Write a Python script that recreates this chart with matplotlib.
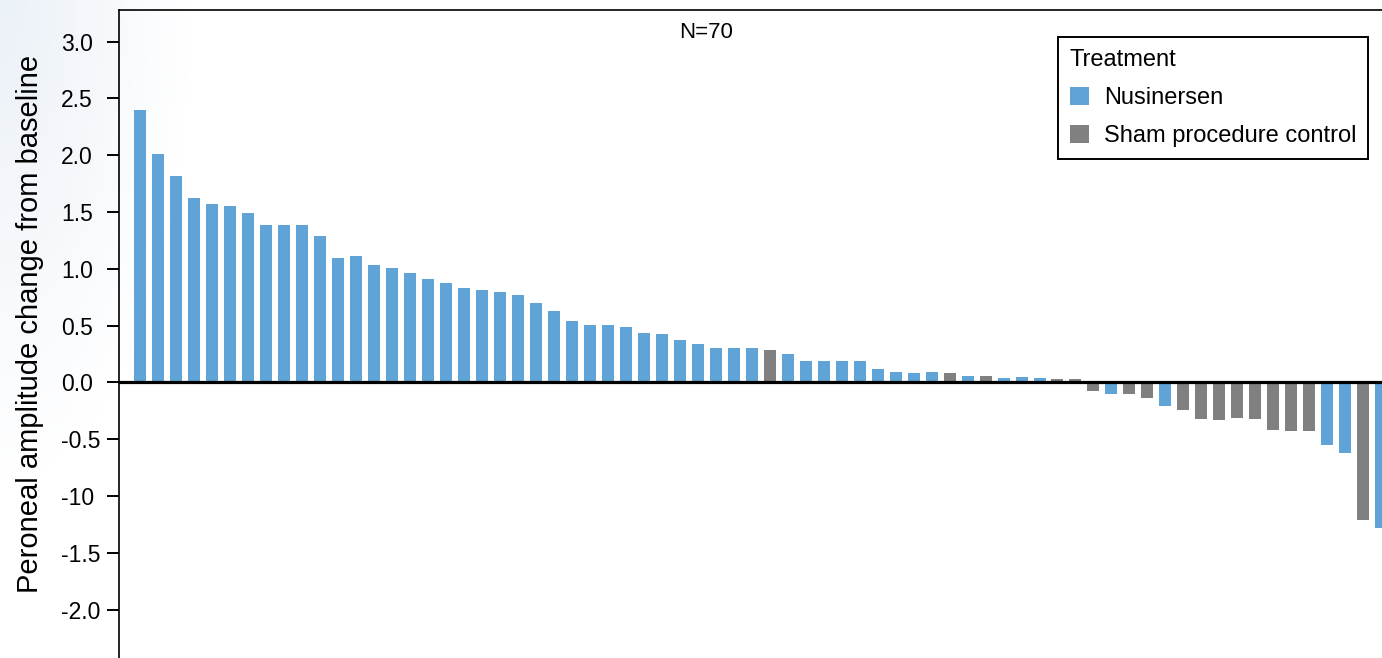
import matplotlib
matplotlib.use("Agg")
import matplotlib.pyplot as plt
from matplotlib.patches import Patch
from matplotlib.ticker import FixedLocator
import numpy as np

plt.rcParams['font.family'] = ['Liberation Sans', 'DejaVu Sans']

# ---- data ----
values = [2.40, 2.01, 1.82, 1.62, 1.57, 1.55, 1.49, 1.39, 1.39, 1.39,
          1.29, 1.10, 1.11, 1.03, 1.01, 0.96, 0.91, 0.88, 0.83, 0.81,
          0.80, 0.77, 0.70, 0.63, 0.54, 0.51, 0.505, 0.49, 0.44, 0.43,
          0.37, 0.34, 0.30, 0.30, 0.30, 0.29, 0.25, 0.19, 0.19, 0.19,
          0.19, 0.12, 0.09, 0.08, 0.09, 0.08, 0.057, 0.057, 0.04, 0.05,
          0.04, 0.03, 0.03, -0.075, -0.10, -0.10, -0.14, -0.21, -0.24, -0.32,
          -0.33, -0.31, -0.32, -0.42, -0.43, -0.43, -0.55, -0.62, -1.21, -1.28]
groups = ['N'] * 35 + ['S'] + ['N'] * 9 + ['S', 'N', 'S', 'N', 'N', 'N', 'S', 'S',
          'S', 'N', 'S', 'S', 'N', 'S', 'S', 'S', 'S', 'S', 'S', 'S', 'S', 'N', 'N', 'S', 'N']
group_names = {'N': 'Nusinersen', 'S': 'Sham procedure control'}
group_colors = {'N': '#5fa3d7', 'S': '#808080'}
ytick_values = [3.0, 2.5, 2.0, 1.5, 1.0, 0.5, 0.0, -0.5, -1.0, -1.5, -2.0]
ytick_labels = ['3.0', '2.5', '2.0', '1.5', '1.0', '0.5', '0.0', '-0.5', '-10', '-1.5', '-2.0']
ylabel = 'Peroneal amplitude change from baseline'
annotation = 'N=70'
legend_title = 'Treatment'

W, H = 1382, 658
fig = plt.figure(figsize=(W / 100, H / 100), dpi=100, facecolor='white')

# faint slide-background tint in the top-left corner
yy, xx = np.mgrid[0:H, 0:W]
t = np.clip(1 - np.sqrt((xx / 190.0) ** 2 + (yy / 480.0) ** 2), 0, 1)
bg = np.ones((H, W, 3))
tint = np.array([20, 14, 7]) / 255.0
bg -= t[..., None] * tint
fig.figimage(bg, xo=0, yo=0, origin='upper', zorder=-10)

# axes geometry (pixels): left spine at 119, top spine at 10; extends past right/bottom edge
px_per_bar = 17.99
first_center = 140.0
zero_px = 382.5
px_per_unit = 113.6
ax_left, ax_top = 118.5, 10.0
ax_right, ax_bottom = 1440.0, 670.0
ax = fig.add_axes([ax_left / W, (H - ax_bottom) / H, (ax_right - ax_left) / W, (ax_bottom - ax_top) / H])
ax.set_facecolor('none')

x = np.arange(len(values))
colors = [group_colors[g] for g in groups]
ax.bar(x, values, width=12 / px_per_bar, color=colors, zorder=2)

xl = -(first_center - ax_left) / px_per_bar
xr = xl + (ax_right - ax_left) / px_per_bar
ax.set_xlim(xl, xr)
yt = (zero_px - ax_top) / px_per_unit
yb = (zero_px - ax_bottom) / px_per_unit
ax.set_ylim(yb, yt)

ax.axhline(0, color='black', lw=2.3, zorder=3)

ax.yaxis.set_major_locator(FixedLocator(ytick_values))
ax.set_yticklabels(ytick_labels)
ax.tick_params(axis='y', direction='out', length=9, width=1.4, labelsize=16.5, pad=32.5, colors='black')
for lab in ax.get_yticklabels():
    lab.set_horizontalalignment('left')
ax.set_xticks([])
for s in ['left', 'top']:
    ax.spines[s].set_linewidth(1.2)
    ax.spines[s].set_color('black')
for s in ['right', 'bottom']:
    ax.spines[s].set_visible(False)

fig.text(30 / W, 1 - 324 / H, ylabel, fontsize=21, rotation=90, ha='center', va='center')

fig.text(706 / W, 1 - 33 / H, annotation, fontsize=16, ha='center', va='center')

handles = [Patch(facecolor=group_colors[k], edgecolor='none', label=group_names[k]) for k in ['N', 'S']]
leg = ax.legend(handles=handles, title=legend_title, loc='upper left',
                bbox_to_anchor=(1058 / W, 1 - 37 / H), bbox_transform=fig.transFigure,
                fontsize=17, title_fontsize=17, frameon=True, fancybox=False,
                edgecolor='black', framealpha=1, handlelength=0.8, handleheight=0.8,
                handletextpad=0.65, borderpad=0.5, labelspacing=0.68, alignment='left',
                borderaxespad=0)
leg.get_frame().set_linewidth(1.4)

fig.savefig('out.png', dpi=100, facecolor='white')
